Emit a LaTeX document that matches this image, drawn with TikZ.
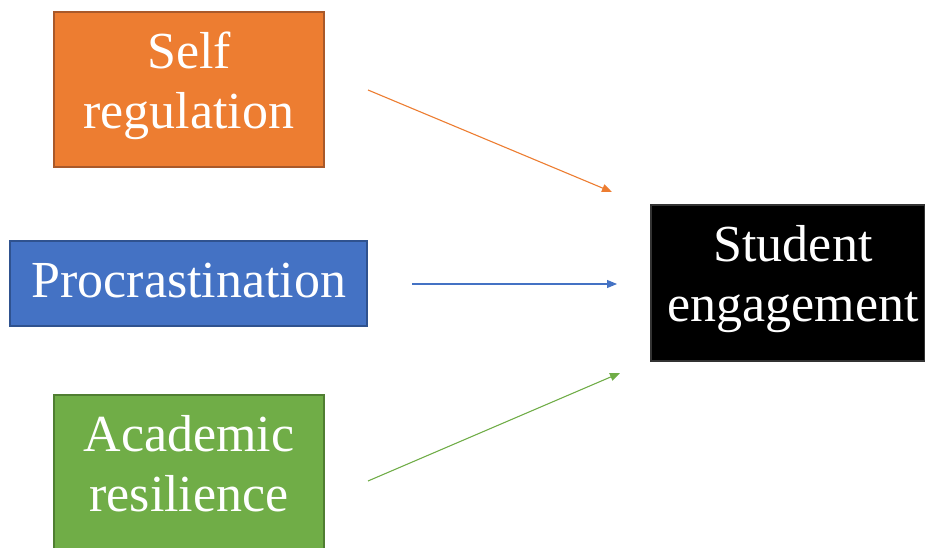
\documentclass[tikz,border=0pt]{standalone}
\usepackage{fontspec}
\setmainfont{Liberation Serif}
\usetikzlibrary{arrows.meta}
\definecolor{orfill}{HTML}{ED7D31}
\definecolor{ordraw}{HTML}{A9592A}
\definecolor{blfill}{HTML}{4472C4}
\definecolor{bldraw}{HTML}{2F528F}
\definecolor{grfill}{HTML}{70AD47}
\definecolor{grdraw}{HTML}{507E32}
\begin{document}
\begin{tikzpicture}[x=1pt,y=-1pt,
  box/.style={draw, line width=1.2pt, inner sep=0pt},
  lbl/.style={text=white, align=center, inner sep=0pt, font=\fontsize{52}{60}\selectfont},
  link/.style={line width=1.1pt, -{Triangle[length=10pt,width=8pt]}}]
\useasboundingbox (0,0) rectangle (925,548);
\clip (0,0) rectangle (925,548);
\fill[white] (0,0) rectangle (925,548);
\node[box, fill=orfill, draw=ordraw, minimum width=270pt, minimum height=155pt] (self) at (189,89.5) {};
\node[lbl] (selftext) at (189,86) {Self\\regulation};
\node[box, fill=blfill, draw=bldraw, minimum width=357pt, minimum height=85pt] (proc) at (188.5,283.5) {};
\node[lbl] (proctext) at (189,281) {Procrastination};
\node[box, fill=grfill, draw=grdraw, minimum width=270pt, minimum height=160pt] (acad) at (189,475) {};
\node[lbl] (acadtext) at (189,464) {Academic\\resilience};
\node[box, fill=black, draw=black!80, minimum width=274pt, minimum height=156pt] (stud) at (788,283) {};
\node[lbl] (studtext) at (793,279) {Student\\engagement};
\coordinate (o1) at (368,90);
\coordinate (o2) at (612,192);
\coordinate (b1) at (412,284);
\coordinate (b2) at (617,284);
\coordinate (g1) at (368,481);
\coordinate (g2) at (620,373);
\draw[link, color=orfill] (o1) -- (o2);
\draw[link, color=blfill] (b1) -- (b2);
\draw[link, color=grfill] (g1) -- (g2);
\end{tikzpicture}
\end{document}
